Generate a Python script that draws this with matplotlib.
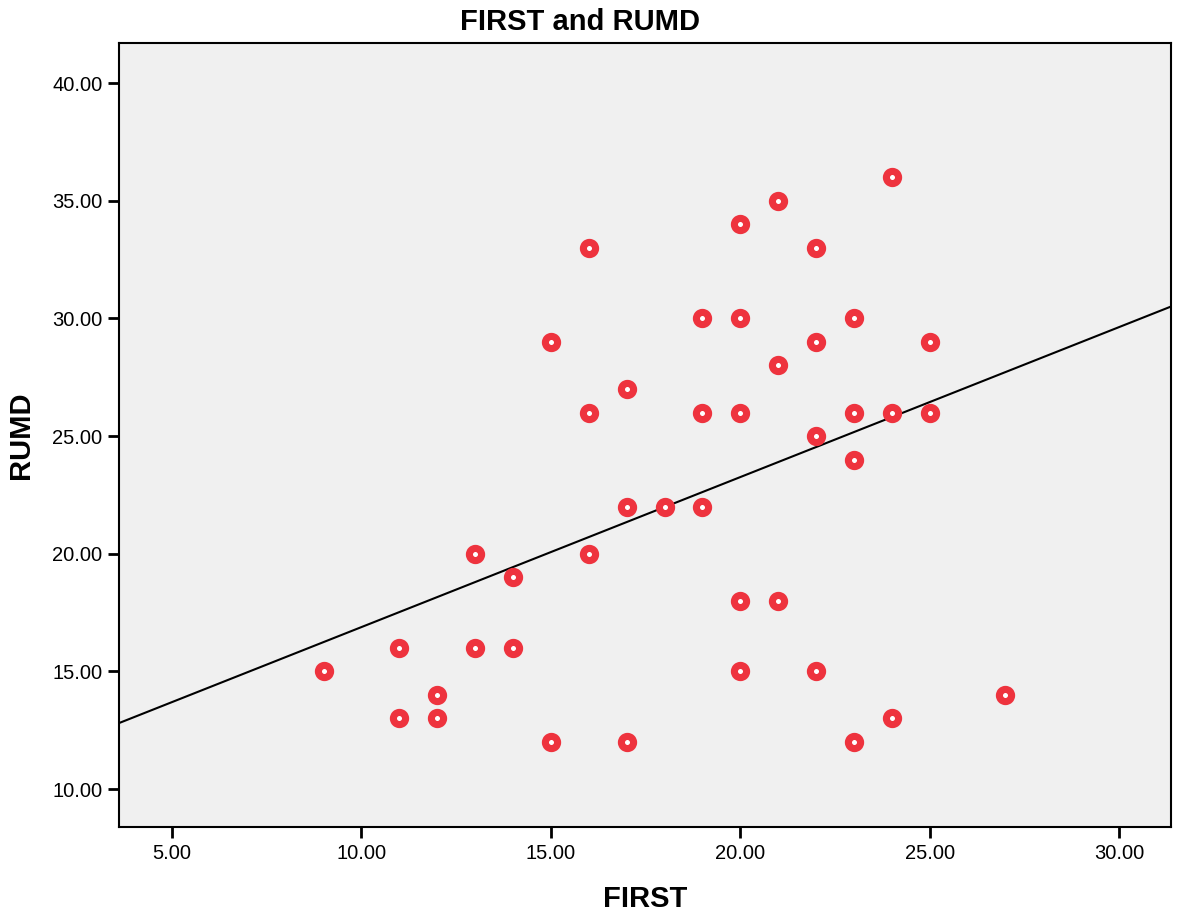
import numpy as np
import matplotlib
matplotlib.use('Agg')
from matplotlib import pyplot as plt

# values
first = [9, 11, 11, 12, 12, 13, 13, 14, 14, 15, 15, 16, 16, 16, 17, 17, 17, 18,
         19, 19, 19, 20, 20, 20, 20, 20, 21, 21, 21, 22, 22, 22, 22,
         23, 23, 23, 23, 24, 24, 24, 25, 25, 27]
rumd = [15, 16, 13, 14, 13, 20, 16, 19, 16, 29, 12, 33, 26, 20, 27, 22, 12, 22,
        30, 26, 22, 34, 30, 26, 18, 15, 35, 28, 18, 33, 29, 25, 15,
        30, 26, 24, 12, 36, 26, 13, 29, 26, 14]
x_ticks = [5, 10, 15, 20, 25, 30]
y_ticks = [10, 15, 20, 25, 30, 35, 40]

plt.rcParams['font.family'] = ['Liberation Sans', 'DejaVu Sans']

fig = plt.figure(figsize=(11.8, 9.16), dpi=100)
ax = fig.add_axes([119 / 1180, 89 / 916, 1052 / 1180, 784 / 916])
ax.set_facecolor('#f0f0f0')

xlim = (3.6, 31.37)
ax.set_xlim(*xlim)
ax.set_ylim(8.39, 41.7)

# fit line
k, b = np.polyfit(first, rumd, 1)
xs = np.array(xlim)
ax.plot(xs, k * xs + b, color='black', lw=1.5, zorder=3)

ax.plot(first, rumd, 'o', ms=8.8, mew=5.1, mfc='white', mec='#ee333e',
        ls='none', zorder=4)

ax.set_xticks(x_ticks)
ax.set_yticks(y_ticks)
ax.set_xticklabels([f'{v:.2f}' for v in x_ticks])
ax.set_yticklabels([f'{v:.2f}' for v in y_ticks])
ax.tick_params(direction='out', length=8, width=2, labelsize=14.5, pad=4)
for s in ax.spines.values():
    s.set_linewidth(1.5)

ax.set_title('FIRST and RUMD', fontsize=21, fontweight='bold', pad=9,
             x=(580 - 119) / 1052)
ax.set_xlabel('FIRST', fontsize=21, fontweight='bold', labelpad=16)
ax.set_ylabel('RUMD', fontsize=21, fontweight='bold', labelpad=12)

fig.savefig('out.png', dpi=100)
